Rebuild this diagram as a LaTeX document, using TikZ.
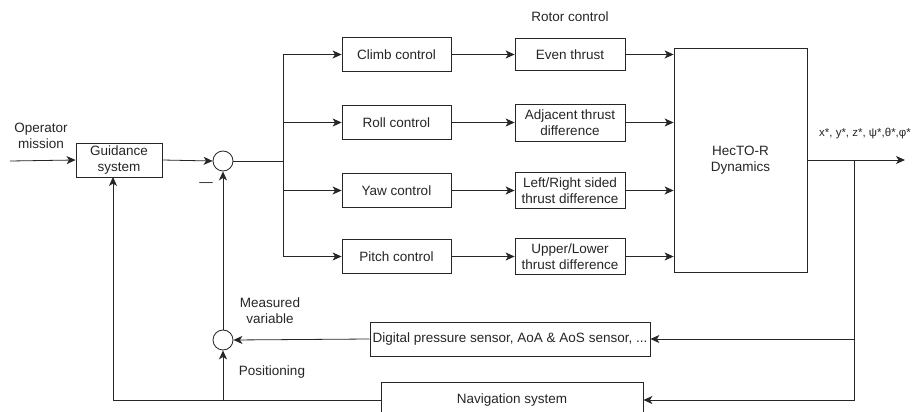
\documentclass[tikz,border=0pt]{standalone}
\usepackage{fontspec}
\setmainfont{Liberation Sans}
\usetikzlibrary{arrows.meta}
\begin{document}
\begin{tikzpicture}[x=1pt,y=-1pt,
  every node/.style={font=\fontsize{13.5}{16}\selectfont, text=black!85, inner sep=0pt},
  blk/.style={draw=black!85, line width=0.8pt, rectangle, align=center, fill=white},
  sumc/.style={draw=black!85, line width=0.8pt, circle, minimum size=20pt, fill=white},
  lbl/.style={align=center},
  conn/.style={draw=black!85, line width=0.8pt},
  arr/.style={conn, -{Stealth[length=9pt,width=8pt,inset=2.5pt]}}]
\useasboundingbox (0,0) rectangle (914,412);
% blocks
\node[blk, minimum width=86pt, minimum height=34pt] (guid) at (119,160) {Guidance\\system};
\node[sumc] (s1) at (223,161) {};
\node[sumc] (s2) at (223,340) {};
\node[blk, minimum width=109pt, minimum height=34pt] (climb) at (396.5,54.5) {Climb control};
\node[blk, minimum width=109pt, minimum height=34pt] (roll) at (396.5,122.5) {Roll control};
\node[blk, minimum width=109pt, minimum height=34pt] (yaw) at (396.5,190.5) {Yaw control};
\node[blk, minimum width=109pt, minimum height=34pt] (pitch) at (396.5,256.5) {Pitch control};
\node[blk, minimum width=110pt, minimum height=32pt] (even) at (570,54.5) {Even thrust};
\node[blk, minimum width=110pt, minimum height=37pt] (adj) at (570,122.5) {Adjacent thrust\\difference};
\node[blk, minimum width=110pt, minimum height=36pt] (lr) at (570,190.5) {Left/Right sided\\thrust difference};
\node[blk, minimum width=110pt, minimum height=36pt] (ul) at (570,256.5) {Upper/Lower\\thrust difference};
\node[blk, minimum width=133pt, minimum height=224pt] (dyn) at (740.5,160) {HecTO-R\\Dynamics};
\node[blk, minimum width=280pt, minimum height=34pt] (dig) at (510,339) {Digital pressure sensor, AoA \& AoS sensor, ...};
\node[blk, minimum width=262pt, minimum height=36pt] (nav) at (512,400) {Navigation system};
% coordinates
\coordinate (in) at (10,161);
\coordinate (split) at (283,161);
\coordinate (out) at (905,160);
\coordinate (tap) at (854,160);
\coordinate (navtap) at (223,400);
\coordinate (guidin) at (113,177);
% labels
\node[lbl] (opm) at (41,136) {Operator\\mission};
\node[lbl] (minus) at (206,185) {—};
\node[lbl] (rotor) at (570,17) {Rotor control};
\node[lbl] (meas) at (270,311) {Measured\\variable};
\node[lbl] (pos) at (272,372) {Positioning};
\node[lbl, font=\fontsize{11.5}{13}\selectfont] (outl) at (865,134) {x*, y*, z*, ψ*,θ*,φ*};
% connectors
\draw[arr] (in) -- (guid.west);
\draw[arr] (guid.east) -- (s1.west);
\draw[conn] (s1.east) -- (split);
\draw[arr] (split) |- (climb.west);
\draw[arr] (split) |- (roll.west);
\draw[arr] (split) |- (yaw.west);
\draw[arr] (split) |- (pitch.west);
\draw[arr] (climb.east) -- (even.west);
\draw[arr] (roll.east) -- (adj.west);
\draw[arr] (yaw.east) -- (lr.west);
\draw[arr] (pitch.east) -- (ul.west);
\draw[arr] (even.east) -- (dyn.west |- even.east);
\draw[arr] (adj.east) -- (dyn.west |- adj.east);
\draw[arr] (lr.east) -- (dyn.west |- lr.east);
\draw[arr] (ul.east) -- (dyn.west |- ul.east);
\draw[arr] (dyn.east |- out) -- (out);
\draw[arr] (tap) |- (dig.east);
\draw[arr] (tap) |- (nav.east);
\draw[arr] (dig.west) -- (s2.east);
\draw[arr] (nav.west) -| (guidin);
\draw[arr] (navtap) -- (s2.south);
\draw[arr] (s2.north) -- (s1.south);
\end{tikzpicture}
\end{document}
